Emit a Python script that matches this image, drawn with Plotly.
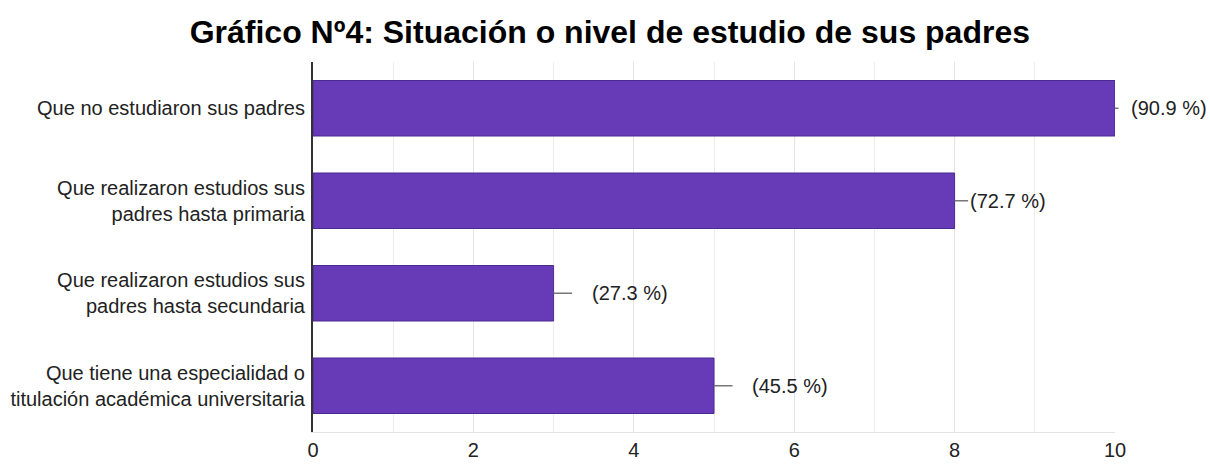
import plotly.graph_objects as go

categories = [
    "Que no estudiaron sus padres",
    "Que realizaron estudios sus<br>padres hasta primaria",
    "Que realizaron estudios sus<br>padres hasta secundaria",
    "Que tiene una especialidad o<br>titulación académica universitaria",
]
counts = [10, 8, 3, 5]
percent_labels = ["(90.9 %)", "(72.7 %)", "(27.3 %)", "(45.5 %)"]
x_ticks = [0, 2, 4, 6, 8, 10]

# label placement styling (pixel offsets of label centre, gap between leader line and text)
label_ax = [54, 53, 76, 76]
label_gap = [12, 1, 19, 19]

FONT = "Liberation Sans, Arial, sans-serif"

fig = go.Figure()
fig.add_trace(go.Bar(
    x=counts,
    y=categories,
    orientation="h",
    marker=dict(color="#673ab7", line=dict(color="#4b2a91", width=1)),
    hoverinfo="skip",
))

for cat, val, lab, ax, gap in zip(categories, counts, percent_labels, label_ax, label_gap):
    fig.add_annotation(
        x=val, y=cat, xref="x", yref="y",
        text=lab, showarrow=True, arrowhead=0, arrowwidth=1.3,
        arrowcolor="#777777", ax=ax, ay=0,
        startstandoff=gap, standoff=0,
        font=dict(family=FONT, size=20, color="#222222"),
        borderpad=0,
    )

fig.update_layout(
    width=1210, height=464,
    margin=dict(l=313, r=95, t=62, b=32, autoexpand=False),
    paper_bgcolor="white", plot_bgcolor="white",
    bargap=0.4,
    showlegend=False,
    title=dict(
        text="<b>Gráfico Nº4: Situación o nivel de estudio de sus padres</b>",
        x=0.504, xanchor="center", y=1 - 32 / 464, yanchor="middle",
        font=dict(family=FONT, size=32, color="#000000"),
    ),
    xaxis=dict(
        range=[0, 10], tickvals=x_ticks, ticktext=[str(t) for t in x_ticks],
        showgrid=True, gridcolor="#e4e4e4", gridwidth=1,
        minor=dict(dtick=1, showgrid=True, gridcolor="#ececec", gridwidth=1),
        zeroline=False, showline=True, linecolor="#e4e4e4", linewidth=1,
        tickfont=dict(family=FONT, size=20, color="#222222"),
        ticks="", fixedrange=True, automargin=False,
    ),
    yaxis=dict(
        autorange="reversed", categoryorder="array", categoryarray=categories,
        showgrid=False, zeroline=False,
        showline=True, linecolor="#333333", linewidth=2,
        tickfont=dict(family=FONT, size=20, color="#222222"),
        ticks="", ticklabelstandoff=2, automargin=False,
    ),
)

fig.write_html(
    "out.html",
    config={"displayModeBar": False},
    post_script="document.body.style.margin='0';document.body.style.overflow='hidden';",
)
